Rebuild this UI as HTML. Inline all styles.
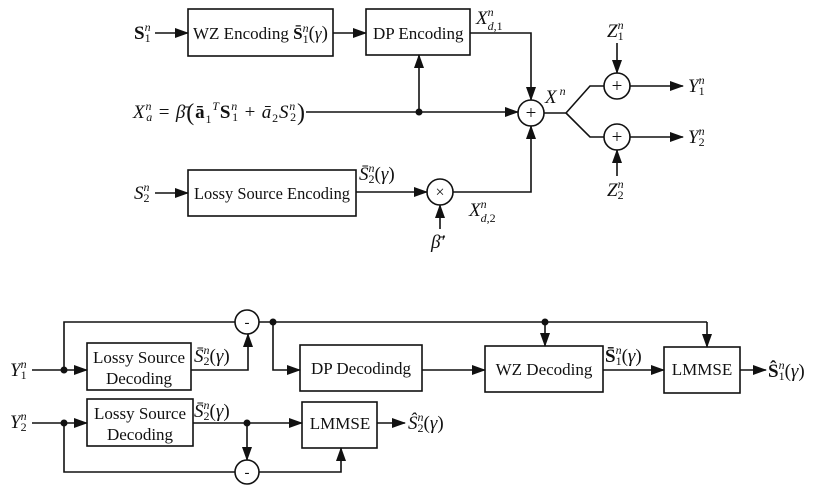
<!DOCTYPE html>
<html><head><meta charset="utf-8"><style>
html,body{margin:0;padding:0;background:#fff}
svg{display:block}
text{font-family:"Liberation Serif",serif;fill:#111}
.m{font-style:italic;font-size:19px}
.b{font-size:17px}
.s{font-size:12px}
.n{font-style:normal}
.bd{font-style:normal;font-weight:bold}
</style></head><body>
<svg width="817" height="489" viewBox="0 0 817 489" xmlns="http://www.w3.org/2000/svg">
<defs>
<marker id="a" markerUnits="userSpaceOnUse" markerWidth="14" markerHeight="10" refX="13" refY="5" orient="auto">
<path d="M0,0 L14,5 L0,10 Z" fill="#111"/></marker>
</defs>
<g stroke="#111" stroke-width="1.6" fill="none">
<rect x="188" y="9" width="145" height="47"/>
<rect x="366" y="9" width="104" height="46"/>
<rect x="188" y="170" width="168" height="46"/>
<line x1="155" y1="33" x2="188" y2="33" marker-end="url(#a)"/>
<line x1="333" y1="33" x2="366" y2="33" marker-end="url(#a)"/>
<line x1="306" y1="112" x2="518" y2="112" marker-end="url(#a)"/>
<line x1="419" y1="112" x2="419" y2="55" marker-end="url(#a)"/>
<polyline points="470,33 531,33 531,100" marker-end="url(#a)"/>
<circle cx="531" cy="113" r="13"/>
<polyline points="544,113 566,113 590,86 604,86"/>
<polyline points="566,113 590,137 604,137"/>
<circle cx="617" cy="86" r="13"/>
<circle cx="617" cy="137" r="13"/>
<line x1="617" y1="43" x2="617" y2="73" marker-end="url(#a)"/>
<line x1="617" y1="176" x2="617" y2="150" marker-end="url(#a)"/>
<line x1="630" y1="86" x2="683" y2="86" marker-end="url(#a)"/>
<line x1="630" y1="137" x2="683" y2="137" marker-end="url(#a)"/>
<line x1="155" y1="193" x2="188" y2="193" marker-end="url(#a)"/>
<line x1="356" y1="192" x2="427" y2="192" marker-end="url(#a)"/>
<circle cx="440" cy="192" r="13"/>
<line x1="440" y1="229" x2="440" y2="205" marker-end="url(#a)"/>
<polyline points="453,192 531,192 531,126" marker-end="url(#a)"/>
<rect x="87" y="343" width="104" height="47"/>
<rect x="87" y="399" width="106" height="47"/>
<rect x="300" y="345" width="122" height="46"/>
<rect x="485" y="346" width="118" height="46"/>
<rect x="664" y="347" width="76" height="46"/>
<rect x="302" y="402" width="75" height="46"/>
<line x1="32" y1="370" x2="87" y2="370" marker-end="url(#a)"/>
<polyline points="64,370 64,322 235,322"/>
<circle cx="247" cy="322" r="12"/>
<polyline points="191,370 248,370 248,334" marker-end="url(#a)"/>
<line x1="259" y1="322" x2="707" y2="322"/>
<line x1="707" y1="322" x2="707" y2="347" marker-end="url(#a)"/>
<line x1="545" y1="322" x2="545" y2="346" marker-end="url(#a)"/>
<polyline points="273,322 273,370 300,370" marker-end="url(#a)"/>
<line x1="422" y1="370" x2="485" y2="370" marker-end="url(#a)"/>
<line x1="603" y1="370" x2="664" y2="370" marker-end="url(#a)"/>
<line x1="740" y1="370" x2="766" y2="370" marker-end="url(#a)"/>
<line x1="32" y1="423" x2="87" y2="423" marker-end="url(#a)"/>
<polyline points="64,423 64,472 235,472"/>
<circle cx="247" cy="472" r="12"/>
<line x1="193" y1="423" x2="302" y2="423" marker-end="url(#a)"/>
<line x1="247" y1="423" x2="247" y2="460" marker-end="url(#a)"/>
<polyline points="259,472 341,472 341,448" marker-end="url(#a)"/>
<line x1="377" y1="423" x2="405" y2="423" marker-end="url(#a)"/>
</g>
<g fill="#111">
<circle cx="419" cy="112" r="3.5"/>
<circle cx="64" cy="370" r="3.5"/>
<circle cx="273" cy="322" r="3.5"/>
<circle cx="545" cy="322" r="3.5"/>
<circle cx="64" cy="423" r="3.5"/>
<circle cx="247" cy="423" r="3.5"/>
</g>
<g text-anchor="middle">
<text x="531" y="119" font-size="19">+</text>
<text x="617" y="92" font-size="19">+</text>
<text x="617" y="143" font-size="19">+</text>
<text x="440" y="197" font-size="16">×</text>
<text x="247" y="327" font-size="15">-</text>
<text x="247" y="477" font-size="15">-</text>
</g>
<text class="b" x="193" y="39">WZ Encoding <tspan font-weight="bold">S̄</tspan><tspan class="s" dy="-7" font-style="italic">n</tspan><tspan class="s" dx="-6" dy="11">1</tspan><tspan dy="-4" font-size="19">(</tspan><tspan font-style="italic">γ</tspan><tspan font-size="19">)</tspan></text>
<text class="b" x="373" y="39">DP Encoding</text>
<text class="b" x="272" y="199" text-anchor="middle" textLength="156" lengthAdjust="spacingAndGlyphs">Lossy Source Encoding</text>
<text x="134" y="39" font-size="19" font-weight="bold">S<tspan class="s" dy="-8" font-weight="normal" font-style="italic">n</tspan><tspan class="s" dx="-6" dy="11" font-weight="normal">1</tspan></text>
<text class="m" x="134" y="199">S<tspan class="s" dy="-8">n</tspan><tspan class="s n" dx="-6" dy="11">2</tspan></text>
<text class="m" x="133" y="118" textLength="172" lengthAdjust="spacing">X<tspan class="s" dy="-8">n</tspan><tspan class="s" dx="-6" dy="11">a</tspan><tspan dy="-3" class="n"> = </tspan>β̄<tspan font-size="24" dy="2" class="n">(</tspan><tspan dy="-2" class="bd">ā</tspan><tspan class="s n" dy="5">1</tspan><tspan class="s" dy="-13">T</tspan><tspan dy="8" class="bd">S</tspan><tspan class="s" dy="-8">n</tspan><tspan class="s n" dx="-6" dy="11">1</tspan><tspan dy="-3" class="n"> + </tspan>ā<tspan class="s n" dy="4">2</tspan><tspan dy="-4">S</tspan><tspan class="s" dy="-8">n</tspan><tspan class="s n" dx="-6" dy="11">2</tspan><tspan font-size="24" dy="-1" class="n">)</tspan></text>
<text class="m" x="476" y="24">X<tspan class="s" dy="-8">n</tspan><tspan class="s" dx="-6" dy="14">d</tspan><tspan class="s n">,1</tspan></text>
<text class="m" x="545" y="103">X<tspan class="s" dy="-8"> n</tspan></text>
<text class="m" x="607" y="37">Z<tspan class="s" dy="-8">n</tspan><tspan class="s n" dx="-6" dy="11">1</tspan></text>
<text class="m" x="607" y="196">Z<tspan class="s" dy="-8">n</tspan><tspan class="s n" dx="-6" dy="11">2</tspan></text>
<text class="m" x="688" y="92">Y<tspan class="s" dy="-8">n</tspan><tspan class="s n" dx="-6" dy="11">1</tspan></text>
<text class="m" x="688" y="143">Y<tspan class="s" dy="-8">n</tspan><tspan class="s n" dx="-6" dy="11">2</tspan></text>
<text class="m" x="359" y="180">S̄<tspan class="s" dy="-8">n</tspan><tspan class="s n" dx="-6" dy="11">2</tspan><tspan dy="-3" class="n">(</tspan>γ<tspan class="n">)</tspan></text>
<text class="m" x="469" y="216">X<tspan class="s" dy="-8">n</tspan><tspan class="s" dx="-6" dy="14">d</tspan><tspan class="s n">,2</tspan></text>
<text class="m" x="431" y="248">β̄′</text>
<text class="b" x="139" y="363" text-anchor="middle">Lossy Source</text>
<text class="b" x="139" y="384" text-anchor="middle">Decoding</text>
<text class="b" x="140" y="419" text-anchor="middle">Lossy Source</text>
<text class="b" x="140" y="440" text-anchor="middle">Decoding</text>
<text class="b" x="361" y="374" text-anchor="middle">DP Decodindg</text>
<text class="b" x="544" y="375" text-anchor="middle">WZ Decoding</text>
<text class="b" x="702" y="375" text-anchor="middle">LMMSE</text>
<text class="b" x="340" y="429" text-anchor="middle">LMMSE</text>
<text class="m" x="10" y="376">Y<tspan class="s" dy="-8">n</tspan><tspan class="s n" dx="-6" dy="11">1</tspan></text>
<text class="m" x="10" y="428">Y<tspan class="s" dy="-8">n</tspan><tspan class="s n" dx="-6" dy="11">2</tspan></text>
<text class="m" x="194" y="362">S̄<tspan class="s" dy="-8">n</tspan><tspan class="s n" dx="-6" dy="11">2</tspan><tspan dy="-3" class="n">(</tspan>γ<tspan class="n">)</tspan></text>
<text class="m" x="194" y="417">S̄<tspan class="s" dy="-8">n</tspan><tspan class="s n" dx="-6" dy="11">2</tspan><tspan dy="-3" class="n">(</tspan>γ<tspan class="n">)</tspan></text>
<text x="605" y="362" font-size="19" font-weight="bold">S̄<tspan class="s" dy="-8" font-weight="normal" font-style="italic">n</tspan><tspan class="s" dx="-6" dy="11" font-weight="normal">1</tspan><tspan dy="-3" font-weight="normal">(</tspan><tspan font-weight="normal" font-style="italic">γ</tspan><tspan font-weight="normal">)</tspan></text>
<text x="768" y="377" font-size="19" font-weight="bold">Ŝ<tspan class="s" dy="-8" font-weight="normal" font-style="italic">n</tspan><tspan class="s" dx="-6" dy="11" font-weight="normal">1</tspan><tspan dy="-3" font-weight="normal">(</tspan><tspan font-weight="normal" font-style="italic">γ</tspan><tspan font-weight="normal">)</tspan></text>
<text class="m" x="408" y="429">Ŝ<tspan class="s" dy="-8">n</tspan><tspan class="s n" dx="-6" dy="11">2</tspan><tspan dy="-3" class="n">(</tspan>γ<tspan class="n">)</tspan></text>
</svg>
</body></html>
